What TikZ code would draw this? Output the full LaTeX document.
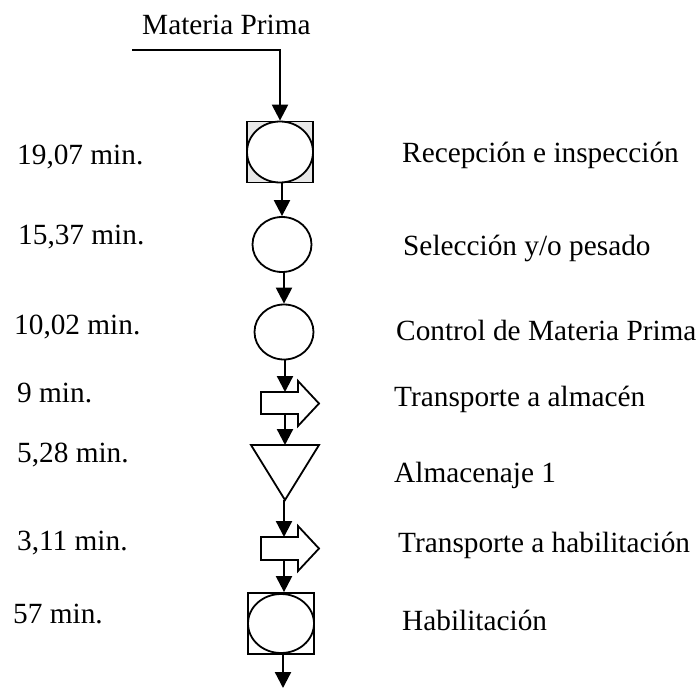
\documentclass[tikz,border=0pt]{standalone}
\usepackage{fontspec}
\setmainfont{Liberation Serif}
\usetikzlibrary{arrows.meta,shapes.geometric}
\begin{document}
\begin{tikzpicture}[x=1pt,y=-1pt,
  lbl/.style={anchor=base west,inner sep=0pt,font=\fontsize{29.3}{34}\selectfont},
  conn/.style={line width=2.3pt,-{Triangle[width=16pt,length=16pt]}},
  shp/.style={line width=1.8pt},
  boxsq/.style={shp,draw,rectangle,minimum width=66pt,minimum height=61pt,inner sep=0pt},
  oval/.style={shp,draw,ellipse,inner sep=0pt,fill=white}]
\useasboundingbox (0,0) rectangle (700,688);

% ---- top input ----
\node[lbl] (mp) at (142,34) {Materia Prima};
\coordinate (mpA) at (132,50);
\coordinate (mpB) at (280,50);

% ---- symbols ----
\node[boxsq,fill=gray!18] (sq1) at (280,152) {};
\node[oval,minimum width=66pt,minimum height=61pt] (e1) at (280,152) {};
\node[oval,minimum width=59pt,minimum height=55pt] (c2) at (282,244.5) {};
\node[oval,minimum width=59pt,minimum height=55pt] (c3) at (284,332) {};

% block arrow 1
\draw[shp,fill=white] (261,392) -- (298,392) -- (298,381) -- (319,403.5) -- (298,426) -- (298,414) -- (261,414) -- cycle;
\coordinate (ba1n) at (285,392);
\coordinate (ba1s) at (285,414);

% triangle (storage)
\draw[shp,fill=white] (251,445) -- (319,445) -- (285,500) -- cycle;
\coordinate (trin) at (285,445);
\coordinate (tris) at (285,500);

% block arrow 2
\draw[shp,fill=white] (261,537) -- (298,537) -- (298,526) -- (319,548.5) -- (298,571) -- (298,560) -- (261,560) -- cycle;
\coordinate (ba2n) at (284,537);
\coordinate (ba2s) at (284,560);

\node[boxsq,fill=white] (sq2) at (281,623.5) {};
\node[oval,minimum width=66pt,minimum height=59pt] (e2) at (281,623.5) {};
\coordinate (endp) at (283,688);

% ---- connectors ----
\draw[conn] (mpA) -- (mpB) -- (sq1.north);
\draw[conn] (sq1.south -| c2.north) -- (c2.north);
\draw[conn] (c2.south -| c3.north) -- (c3.north);
\draw[conn] (c3.south -| ba1n) -- (ba1n);
\draw[conn] (ba1s) -- (trin);
\draw[conn] (tris -| ba2n) -- (ba2n);
\draw[conn] (ba2s) -- (sq2.north -| ba2s);
\draw[conn] (sq2.south -| endp) -- (endp);

% ---- times ----
\node[lbl] (t1) at (17,164) {19,07 min.};
\node[lbl] (t2) at (18,244) {15,37 min.};
\node[lbl] (t3) at (14,334) {10,02 min.};
\node[lbl] (t4) at (17,402) {9 min.};
\node[lbl] (t5) at (17,462) {5,28 min.};
\node[lbl] (t6) at (17,550) {3,11 min.};
\node[lbl] (t7) at (13,623) {57 min.};

% ---- descriptions ----
\node[lbl] (d1) at (402,162) {Recepción e inspección};
\node[lbl] (d2) at (403,255) {Selección y/o pesado};
\node[lbl] (d3) at (396,340) {Control de Materia Prima};
\node[lbl] (d4) at (394,406) {Transporte a almacén};
\node[lbl] (d5) at (394,482) {Almacenaje 1};
\node[lbl] (d6) at (398,552) {Transporte a habilitación};
\node[lbl] (d7) at (402,630) {Habilitación};
\end{tikzpicture}
\end{document}
